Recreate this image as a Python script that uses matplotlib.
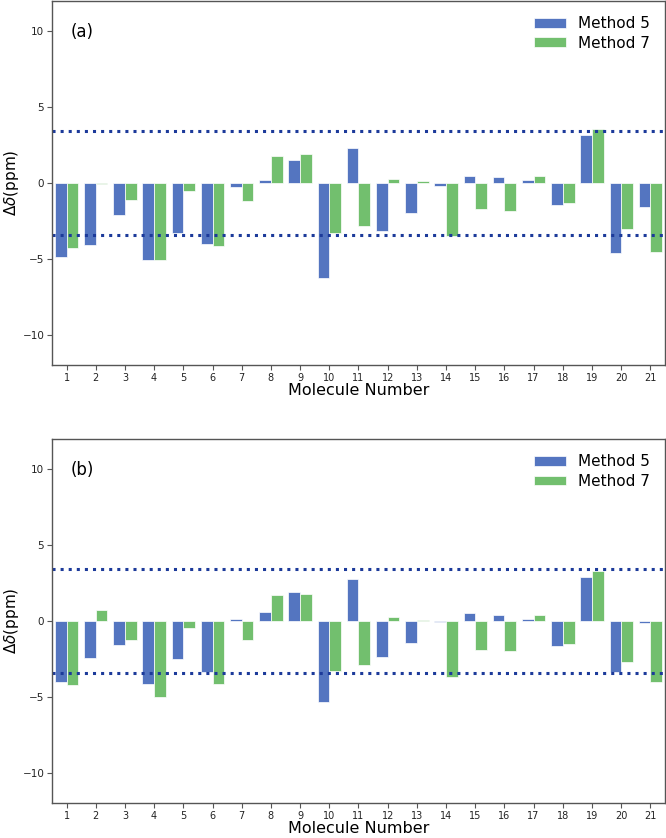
import numpy as np
from matplotlib import pyplot as plt

molecules = np.arange(1, 22)

# panel (a)
a_method5 = [-4.87, -4.10, -2.10, -5.07, -3.29, -4.01, -0.26, 0.18, 1.49, -6.25, 2.32,
             -3.16, -2.00, -0.18, 0.48, 0.37, 0.20, -1.47, 3.18, -4.63, -1.60]
a_method7 = [-4.30, -0.05, -1.14, -5.11, -0.50, -4.14, -1.18, 1.75, 1.89, -3.29, -2.83,
             0.26, 0.13, -3.51, -1.75, -1.82, 0.46, -1.32, 3.55, -3.05, -4.54]

# panel (b)
b_method5 = [-3.99, -2.43, -1.60, -4.17, -2.48, -3.36, 0.15, 0.57, 1.93, -5.35, 2.76,
             -2.37, -1.43, -0.07, 0.53, 0.42, 0.10, -1.64, 2.89, -3.38, -0.13]
b_method7 = [-4.25, 0.72, -1.23, -5.02, -0.48, -4.17, -1.25, 1.69, 1.80, -3.31, -2.92,
             0.26, 0.09, -3.68, -1.93, -2.00, 0.42, -1.49, 3.33, -2.70, -4.04]

threshold = 3.44
blue = "#5475c0"
green = "#72bf6e"
spine_col = "#555555"

fig = plt.figure(figsize=(6.66, 8.38), dpi=100)
ax_a = fig.add_axes([0.078, 0.5644, 0.9205, 0.4346])
ax_b = fig.add_axes([0.078, 0.0418, 0.9205, 0.4343])

for ax, m5, m7, tag in [(ax_a, a_method5, a_method7, "(a)"), (ax_b, b_method5, b_method7, "(b)")]:
    w = 0.4
    ax.bar(molecules - w / 2, m5, width=w, color=blue, edgecolor="white", linewidth=0.5, label="Method 5")
    ax.bar(molecules + w / 2, m7, width=w, color=green, edgecolor="white", linewidth=0.5, label="Method 7")
    ax.axhline(threshold, color="#1c3a9a", ls=":", lw=2.2)
    ax.axhline(-threshold, color="#1c3a9a", ls=":", lw=2.2)

    ax.set_xlim(0.5, 21.5)
    ax.set_ylim(-12, 12)
    ax.set_xticks(molecules)
    ax.set_yticks([-10, -5, 0, 5, 10])
    ax.tick_params(axis="x", labelsize=7, length=3.5, pad=2, color=spine_col, labelcolor="#222222")
    ax.tick_params(axis="y", labelsize=7.5, length=3.5, pad=2, color=spine_col, labelcolor="#222222")
    for s in ax.spines.values():
        s.set_color(spine_col)
        s.set_linewidth(1.0)

    ax.set_xlabel("Molecule Number", fontsize=11.5, labelpad=0)
    ax.set_ylabel(r"$\Delta\delta$(ppm)", fontsize=11, labelpad=1)
    ax.text(0.03, 0.915, tag, transform=ax.transAxes, fontsize=12, va="center", ha="left")
    ax.legend(loc="upper right", frameon=False, fontsize=11, handlelength=2.1,
              handleheight=0.6, labelspacing=0.3, borderaxespad=0.6, handletextpad=0.8)

plt.savefig("out.png", dpi=100)
